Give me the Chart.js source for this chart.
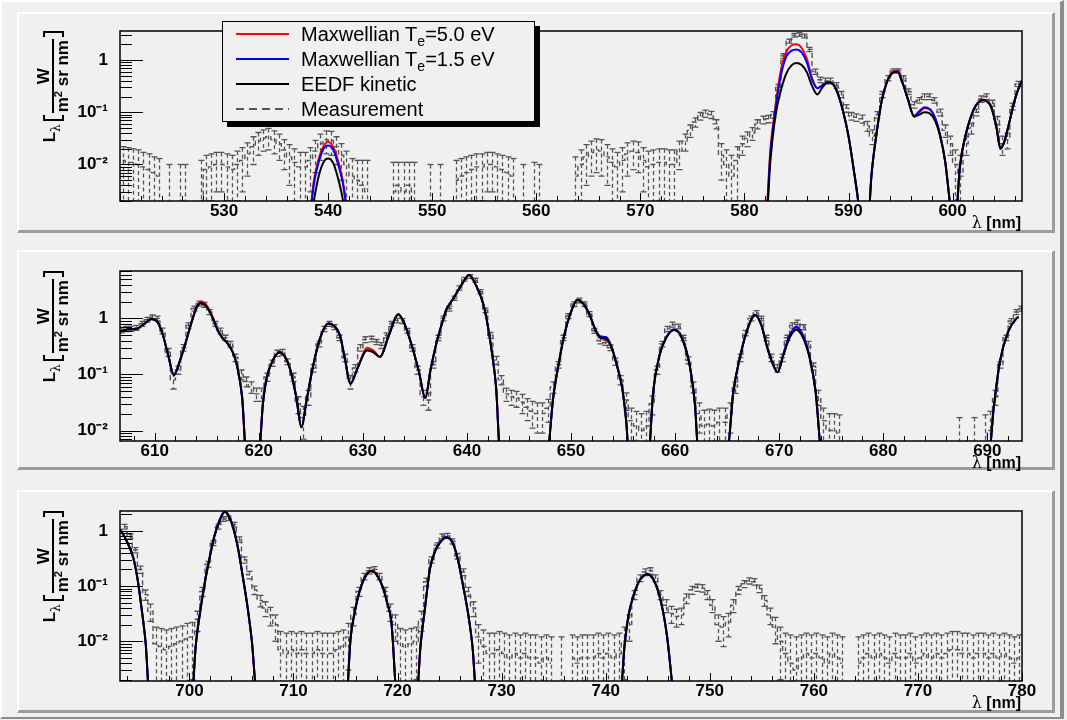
<!DOCTYPE html>
<html><head><meta charset="utf-8">
<script src="https://cdn.jsdelivr.net/npm/chart.js@4.4.1/dist/chart.umd.min.js"></script>
<style>
html,body{margin:0;padding:0;background:#f0f0f0;}
#root{position:relative;width:1067px;height:720px;overflow:hidden;background:#f0f0f0;font-family:"Liberation Sans",Arial,sans-serif;color:#000;}
#frame{position:absolute;left:0;top:0;width:1064px;height:719px;box-sizing:border-box;border-top:2px solid #fff;border-left:2px solid #fff;border-right:4px solid #8c8c8c;border-bottom:2px solid #8c8c8c;}
.panel{position:absolute;left:0;width:1067px;height:240px;}
.pad{position:absolute;left:17px;width:1038px;box-sizing:border-box;background:#f0f0f0;border-top:2px solid #fff;border-left:2px solid #fff;border-right:3px solid #9c9c9c;border-bottom:3px solid #9c9c9c;}
.panel canvas{position:absolute;left:0;top:0;}
.ytitle{position:absolute;left:35px;top:201px;width:170px;height:36px;transform-origin:0 0;transform:rotate(-90deg);display:flex;justify-content:flex-end;align-items:center;font-weight:bold;font-size:17px;white-space:nowrap;}
.ytitle .L{position:relative;top:-3px;margin-right:3px;}
.ytitle .lam{font-family:"DejaVu Serif",serif;font-weight:normal;font-size:12px;position:relative;top:5px;}
.brl{display:inline-block;width:4px;height:17px;border:2px solid #000;border-right:none;margin-right:2px;}
.brr{display:inline-block;width:4px;height:17px;border:2px solid #000;border-left:none;margin-left:2px;}
.frac{display:inline-flex;flex-direction:column;align-items:center;line-height:17px;}
.num{padding:0 2px;}
.den{border-top:2px solid #000;padding:0 1px;}
.den sup{font-size:11px;vertical-align:6px;line-height:0;}
.xtitle{position:absolute;right:46px;top:213px;font-size:16px;font-weight:bold;white-space:nowrap;}
.xtitle .lam{font-family:"DejaVu Serif",serif;font-weight:normal;}
#legend{position:absolute;left:222px;top:21px;width:313px;height:101px;box-sizing:border-box;border:1px solid #000;background:#f0f0f0;box-shadow:5px 5px 0 #000;z-index:5;}
.lrow{position:absolute;left:0;width:100%;height:25px;}
.sw{position:absolute;left:13px;width:53px;top:11px;height:2px;}
.lt{position:absolute;left:78px;top:0;font-size:20px;line-height:25px;white-space:nowrap;}
.lt sub{font-size:14px;vertical-align:-5px;line-height:0;}
</style>
</head>
<body>
<div id="root">
  <div id="frame"></div>
  <div class="panel" style="top:0px">
    <div class="pad" style="top:12px;height:221px"></div>
    <canvas id="c1" width="1067" height="240"></canvas>
    <div class="ytitle"><span class="L">L<span class="lam">λ</span></span><span class="brl"></span><span class="frac"><span class="num">W</span><span class="den">m<sup>2</sup> sr nm</span></span><span class="brr"></span></div>
    <div class="xtitle"><span class="lam">λ</span> [nm]</div>
    <div id="legend">
      <div class="lrow" style="top:0px"><span class="sw" style="background:#ff0000"></span><span class="lt">Maxwellian T<sub>e</sub>=5.0 eV</span></div>
      <div class="lrow" style="top:25px"><span class="sw" style="background:#0000ff"></span><span class="lt">Maxwellian T<sub>e</sub>=1.5 eV</span></div>
      <div class="lrow" style="top:50px"><span class="sw" style="background:#000"></span><span class="lt">EEDF kinetic</span></div>
      <div class="lrow" style="top:75px"><span class="sw" style="background:repeating-linear-gradient(90deg,#555 0 8px,transparent 8px 13px)"></span><span class="lt">Measurement</span></div>
    </div>
  </div>
  <div class="panel" style="top:240px">
    <div class="pad" style="top:10px;height:220px"></div>
    <canvas id="c2" width="1067" height="240"></canvas>
    <div class="ytitle"><span class="L">L<span class="lam">λ</span></span><span class="brl"></span><span class="frac"><span class="num">W</span><span class="den">m<sup>2</sup> sr nm</span></span><span class="brr"></span></div>
    <div class="xtitle"><span class="lam">λ</span> [nm]</div>
  </div>
  <div class="panel" style="top:480px">
    <div class="pad" style="top:10px;height:223px"></div>
    <canvas id="c3" width="1067" height="240"></canvas>
    <div class="ytitle"><span class="L">L<span class="lam">λ</span></span><span class="brl"></span><span class="frac"><span class="num">W</span><span class="den">m<sup>2</sup> sr nm</span></span><span class="brr"></span></div>
    <div class="xtitle"><span class="lam">λ</span> [nm]</div>
  </div>
</div>
<script>
// ---------- tick labels ----------
const yDecades = [1, 0.1, 0.01];
const yDecadeLabels = ['1', '10⁻¹', '10⁻²'];

// ---------- panel ranges ----------
const p1Range = [520, 606.67, 0.002, 3.6];
const p2Range = [606.67, 693.33, 0.0065, 7];
const p3Range = [693.33, 780, 0.0019, 2.3];

// measurement bins: first bin centre, 0.5 nm bins
const p1Start = 520.25, p2Start = 606.75, p3Start = 693.75, binStep = 0.5;

// ---------- panel 1 measurement (value, error) ----------
const p1Meas = [
 0.012,0.011,0.011,0.01,0.009,0.008,0.007,0.006,0,0.001,
 0,0.001,0.001,0,0,0.002,0.008,0.009,0.01,0.01,
 0.009,0.008,0.01,0.012,0.016,0.022,0.028,0.032,0.034,0.03,
 0.025,0.019,0.014,0.011,0.009,0.009,0.012,0.018,0.025,0.03,
 0.029,0.022,0.015,0.01,0.006,0.005,0.004,0.003,0,0,
 0,0,0.003,0.004,0.003,0.004,0.002,0,0,0.001,
 0,0.001,0,0,0.005,0.006,0.007,0.008,0.009,0.009,
 0.01,0.01,0.009,0.008,0.007,0.006,0,0.001,0,0.002,
 0.001,0,0,0,0,0,0,0.006,0.01,0.014,
 0.017,0.019,0.018,0.014,0.011,0.009,0.012,0.016,0.018,0.017,
 0.012,0.009,0.01,0.011,0.011,0.01,0.01,0.018,0.028,0.045,
 0.065,0.085,0.095,0.09,0.06,0.015,0.01,0.006,0.012,0.025,
 0.032,0.04,0.06,0.072,0.075,0.09,0.3,1.2,2.3,3.0,
 3.1,2.9,1.6,0.6,0.42,0.4,0.4,0.33,0.22,0.12,
 0.085,0.08,0.075,0.055,0.035,0.09,0.22,0.45,0.62,0.62,
 0.45,0.25,0.14,0.17,0.2,0.2,0.17,0.1,0.045,0.025,
 0.01,0.006,0.025,0.05,0.1,0.18,0.2,0.15,0.07,0.025,
 0.03,0.13,0.35];
const p1Err = [
 .01,.01,.009,.009,.008,.008,.007,.007,0,.009,
 0,.009,.009,0,0,.01,.007,.007,.007,.007,
 .007,.007,.008,.009,.01,.012,.013,.014,.015,.014,
 .013,.011,.01,.009,.008,.008,.009,.011,.013,.014,
 .014,.012,.01,.008,.007,.007,.008,.009,0,0,
 0,0,.008,.007,.008,.007,.009,0,0,.009,
 0,.009,0,0,.007,.007,.007,.007,.007,.007,
 .007,.007,.007,.007,.007,.007,0,.009,0,.009,
 .009,0,0,0,0,0,0,.008,.009,.01,
 .011,.012,.012,.01,.009,.008,.009,.01,.01,.01,
 .009,.009,.009,.009,.009,.009,.009,.01,.01,.012,
 .013,.014,.015,.014,.012,.01,.009,.009,.01,.01,
 .01,.011,.012,.012,.012,.013,.04,.12,.2,.25,
 .25,.25,.15,.07,.05,.05,.05,.04,.03,.02,
 .014,.013,.013,.012,.011,.013,.03,.05,.06,.06,
 .05,.03,.02,.02,.025,.025,.02,.015,.012,.01,
 .009,.009,.01,.012,.015,.025,.025,.02,.013,.01,
 .01,.02,.04];

// ---------- panel 1 models ----------
const p1ModelX = [
 538.2,538.6,539.0,539.5,540.0,540.5,541.0,541.4,541.8,542.2,
 582.0,582.5,583.0,583.5,584.0,584.5,585.0,585.5,586.0,586.5,587.0,587.5,588.0,588.5,589.0,589.5,590.0,590.5,591.0,591.3,
 591.8,592.2,592.7,593.2,593.7,594.2,594.7,595.2,595.7,596.3,596.8,597.3,597.8,598.3,598.8,599.3,599.8,
 600.2,600.7,601.3,602.0,602.5,602.9,603.3,603.7,604.2,604.6,604.9,605.2,605.5,605.8,606.2,606.67];
const p1Eedf = [
 .0004,.0018,.005,.0105,.013,.0105,.005,.0022,.0006,.0002,
 .0005,.012,.09,.26,.54,.78,.88,.8,.58,.32,.22,.3,.37,.35,.22,.1,.035,.008,.0015,.0003,
 .0004,.006,.04,.17,.38,.56,.6,.36,.18,.082,.09,.1,.095,.07,.035,.011,.0015,
 .0005,.009,.04,.11,.155,.17,.16,.127,.053,.02,.025,.04,.07,.127,.24,.41];
const p1Max50 = [
 .0008,.0045,.011,.0215,.027,.0215,.011,.005,.0015,.0005,
 .0007,.02,.14,.65,1.4,1.9,2.0,1.7,1.05,.45,.29,.33,.38,.35,.22,.1,.035,.008,.0015,.0003,
 .0004,.006,.04,.17,.39,.58,.63,.37,.18,.085,.1,.12,.115,.08,.037,.011,.0015,
 .0005,.009,.04,.11,.16,.175,.165,.13,.054,.02,.025,.04,.07,.127,.24,.41];
const p1Max15 = [
 .0007,.0038,.0095,.019,.023,.019,.0095,.0045,.0013,.0004,
 .0006,.017,.12,.5,1.15,1.5,1.6,1.4,.9,.42,.29,.33,.38,.35,.22,.1,.035,.008,.0015,.0003,
 .0004,.006,.04,.17,.38,.57,.61,.36,.18,.085,.105,.125,.115,.08,.037,.011,.0015,
 .0005,.009,.04,.11,.16,.172,.163,.13,.054,.02,.025,.04,.07,.127,.24,.41];

// ---------- panel 2 measurement ----------
const p2Meas = [
 .62,.65,.66,.68,.8,.95,1.05,1.0,.6,.25,
 .08,.12,.3,.75,1.5,1.85,1.75,1.3,.8,.6,
 .45,.35,.2,.1,.075,.06,.045,.045,.09,.16,
 .24,.25,.17,.09,.03,.017,.04,.13,.35,.65,
 .8,.7,.45,.2,.075,.13,.3,.42,.43,.38,
 .33,.5,.8,.92,.9,.6,.3,.12,.04,.035,
 .15,.45,1.0,1.5,2.3,3.5,5.0,5.6,4.8,3.0,
 1.4,.5,.18,.08,.045,.04,.038,.032,.026,.022,
 .02,.02,.025,.06,.15,.45,1.1,1.8,2.1,1.8,
 1.2,.6,.4,.37,.3,.17,.08,.035,.015,.012,
 .01,.012,.03,.12,.35,.65,.78,.72,.45,.18,
 .06,.02,.012,.013,.012,.014,.014,.02,.06,.2,
 .55,1.0,1.25,1.0,.45,.2,.13,.2,.45,.75,
 .85,.7,.35,.14,.04,.015,.01,.01,.009,0,
 0,0,0,0,0,0,0,0,0,0,
 0,0,0,0,0,0,0,0,0,0,
 0,.002,0,0,.002,0,.006,.01,.04,.15,
 .45,.9,1.3,1.5];
const p2Err = [
 .07,.07,.07,.07,.08,.09,.1,.1,.07,.04,
 .025,.02,.04,.08,.15,.18,.17,.13,.08,.07,
 .05,.04,.03,.02,.015,.014,.012,.012,.015,.02,
 .03,.03,.02,.015,.01,.01,.012,.02,.04,.07,
 .08,.07,.05,.03,.02,.02,.04,.05,.05,.04,
 .04,.05,.08,.09,.09,.06,.04,.02,.012,.012,
 .02,.05,.1,.15,.2,.3,.4,.45,.4,.25,
 .13,.06,.03,.015,.012,.012,.012,.012,.011,.011,
 .011,.011,.011,.014,.02,.05,.11,.17,.2,.17,
 .12,.06,.05,.04,.035,.025,.015,.012,.01,.01,
 .01,.01,.011,.02,.04,.07,.08,.07,.05,.025,
 .013,.011,.011,.011,.011,.011,.011,.011,.014,.03,
 .06,.1,.12,.1,.05,.03,.02,.03,.05,.08,
 .08,.07,.04,.02,.012,.01,.01,.01,.01,0,
 0,0,0,0,0,0,0,0,0,0,
 0,0,0,0,0,0,0,0,0,0,
 0,.015,0,0,.015,0,.013,.012,.012,.02,
 .05,.09,.13,.15];

// ---------- panel 2 models ----------
const p2ModelX = [
 606.67,607.5,608.3,609.0,609.7,610.3,610.8,611.3,611.85,612.4,612.9,613.5,614.0,614.4,615.0,615.6,616.0,616.5,617.0,617.5,617.9,618.4,618.9,
 619.9,620.4,620.75,621.3,622.0,622.5,623.0,623.6,624.1,624.6,625.2,625.9,626.7,627.3,627.8,628.3,628.8,629.5,630.4,631.0,
 631.65,632.5,633.4,634.0,634.7,635.4,636.0,636.5,637.1,637.6,638.0,638.5,639.0,639.6,640.2,640.9,641.6,642.0,642.4,642.8,643.2,
 647.7,648.3,648.9,649.4,649.9,650.6,651.2,651.8,652.3,652.8,653.4,653.9,654.4,654.9,655.3,655.6,
 657.4,657.9,658.5,659.2,659.9,660.6,661.4,661.9,662.3,
 665.0,665.6,666.2,666.9,667.7,668.3,668.8,669.3,669.85,670.4,671.0,671.65,672.3,672.95,673.5,674.1,
 690.1,690.6,691.2,692.0,692.8,693.0];
const p2Eedf = [
 .58,.64,.65,.8,.97,.85,.5,.22,.097,.17,.33,.8,1.5,1.86,1.6,1.0,.65,.45,.36,.25,.146,.04,.002,
 .002,.03,.084,.17,.25,.21,.127,.04,.0114,.035,.136,.45,.81,.72,.5,.18,.068,.13,.27,.25,
 .205,.5,1.18,.8,.33,.11,.038,.12,.38,.8,1.4,2.0,2.8,4.3,5.96,3.8,1.73,.75,.25,.06,.004,
 .004,.04,.19,.55,1.15,2.13,1.8,1.15,.65,.46,.43,.3,.146,.06,.015,.003,
 .003,.05,.22,.47,.62,.47,.146,.03,.003,
 .004,.05,.19,.6,1.15,.75,.33,.17,.11,.22,.45,.63,.45,.19,.05,.004,
 .003,.024,.167,.58,1.0,1.05];
const p2Max50 = [
 .58,.64,.65,.8,.97,.85,.5,.22,.097,.17,.33,.8,1.55,2.0,1.7,1.02,.65,.45,.36,.25,.146,.04,.002,
 .002,.03,.084,.17,.25,.21,.127,.04,.0114,.035,.136,.45,.81,.72,.5,.18,.068,.13,.3,.27,
 .205,.5,1.18,.8,.33,.11,.038,.12,.38,.8,1.4,2.0,2.8,4.3,5.96,3.8,1.73,.75,.25,.06,.004,
 .004,.04,.19,.55,1.15,2.13,1.8,1.15,.65,.45,.41,.3,.146,.06,.015,.003,
 .003,.05,.22,.47,.63,.47,.146,.03,.003,
 .004,.05,.19,.6,1.12,.74,.33,.17,.11,.22,.47,.66,.47,.19,.05,.004,
 .003,.024,.167,.58,1.0,1.05];
const p2Max15 = [
 .58,.64,.65,.8,.97,.85,.5,.22,.097,.17,.33,.8,1.52,1.9,1.63,1.0,.65,.45,.36,.25,.146,.04,.002,
 .002,.03,.084,.17,.25,.21,.127,.04,.0114,.035,.136,.45,.81,.72,.5,.18,.068,.13,.27,.25,
 .205,.5,1.18,.8,.33,.11,.038,.12,.38,.8,1.4,2.0,2.8,4.3,5.96,3.8,1.73,.75,.25,.06,.004,
 .004,.04,.19,.55,1.15,2.15,1.8,1.15,.66,.48,.46,.31,.15,.06,.015,.003,
 .003,.05,.22,.47,.64,.47,.146,.03,.003,
 .004,.05,.19,.6,1.15,.75,.33,.17,.11,.23,.5,.71,.5,.2,.05,.004,
 .003,.024,.167,.58,1.0,1.05];

// ---------- panel 3 measurement ----------
const p3Meas = [
 1.2,.8,.45,.2,.07,.035,.009,.008,.007,.008,
 .009,.01,.011,.012,.025,.08,.25,.6,1.2,1.65,
 1.7,1.3,.7,.3,.16,.085,.055,.04,.03,.02,
 .007,.006,.007,.006,.007,.006,.006,.007,.006,.006,
 .006,.007,.008,.012,.03,.08,.15,.19,.2,.15,
 .08,.035,.02,.009,.008,.009,.01,.025,.12,.3,
 .55,.8,.82,.65,.35,.18,.08,.04,.012,.008,
 .006,.006,.007,.006,.005,.006,.005,.006,.005,.005,
 .004,.005,.004,0,.004,0,.005,.004,.005,.005,
 .005,.006,.005,.006,.005,.006,.01,.02,.07,.14,
 .18,.19,.14,.07,.045,.032,.028,.03,.06,.085,
 .094,.092,.07,.045,.02,.018,.022,.045,.085,.11,
 .125,.12,.09,.055,.03,.018,.01,.006,.004,.003,
 .005,.006,.005,.006,.005,.004,.006,.005,.004,0,
 0,.004,.005,.006,.005,.006,.005,.004,.006,.005,
 .005,.006,.004,.005,.006,.005,.006,.005,.006,.007,
 .007,.006,.006,.005,.006,.006,.005,.006,.005,.006,
 .005,.004,.005];
const p3Err = [
 .12,.08,.05,.03,.015,.012,.009,.009,.009,.009,
 .009,.009,.01,.01,.01,.015,.03,.06,.12,.16,
 .16,.13,.08,.04,.025,.015,.013,.012,.011,.01,
 .008,.008,.008,.008,.008,.008,.008,.008,.008,.008,
 .008,.008,.008,.009,.011,.015,.02,.025,.025,.02,
 .015,.012,.01,.008,.008,.008,.008,.01,.02,.04,
 .06,.08,.08,.07,.04,.025,.015,.012,.008,.008,
 .008,.008,.008,.008,.008,.008,.008,.008,.008,.008,
 .008,.008,.008,0,.008,0,.008,.008,.008,.008,
 .008,.008,.008,.008,.008,.008,.008,.01,.013,.02,
 .025,.025,.02,.013,.012,.011,.01,.01,.012,.014,
 .014,.014,.013,.012,.01,.01,.01,.012,.014,.016,
 .016,.016,.014,.012,.01,.009,.008,.008,.009,.009,
 .008,.008,.008,.008,.008,.008,.008,.008,.008,0,
 0,.008,.008,.008,.008,.008,.008,.008,.008,.008,
 .008,.008,.008,.008,.008,.008,.008,.008,.008,.008,
 .008,.008,.008,.008,.008,.008,.008,.008,.008,.008,
 .008,.008,.008];

// ---------- panel 3 models ----------
const p3ModelX = [
 693.33,693.9,694.6,695.0,695.4,695.8,696.2,
 700.2,700.6,701.0,701.5,701.95,702.4,702.9,703.4,703.8,704.2,704.7,705.1,705.6,706.0,706.5,
 715.0,715.5,715.9,716.5,717.0,717.5,718.0,718.6,719.0,719.4,720.0,
 721.8,722.2,722.6,723.1,723.6,724.1,724.7,725.3,725.8,726.3,726.8,727.2,727.6,
 741.4,741.8,742.2,742.7,743.3,744.0,744.6,745.3,745.9,746.5];
const p3Eedf = [
 1.07,.7,.33,.14,.04,.009,.0008,
 .0008,.008,.031,.12,.33,.8,1.52,2.2,1.8,1.15,.45,.16,.04,.01,.001,
 .0006,.012,.035,.1,.16,.187,.16,.094,.05,.023,.0008,
 .0008,.008,.035,.2,.42,.62,.76,.6,.3,.1,.03,.008,.001,
 .001,.008,.03,.07,.13,.163,.13,.053,.012,.001];
const p3Max50 = [
 1.07,.7,.33,.14,.04,.009,.0008,
 .0008,.008,.031,.12,.33,.8,1.55,2.25,1.85,1.15,.45,.16,.04,.01,.001,
 .0006,.012,.035,.1,.16,.187,.16,.094,.05,.023,.0008,
 .0008,.008,.035,.2,.42,.62,.76,.6,.3,.1,.03,.008,.001,
 .001,.008,.03,.07,.13,.163,.13,.053,.012,.001];
const p3Max15 = [
 1.07,.7,.33,.14,.04,.009,.0008,
 .0008,.008,.032,.125,.34,.82,1.58,2.3,1.88,1.18,.46,.16,.04,.01,.001,
 .0006,.012,.035,.1,.16,.19,.16,.094,.05,.023,.0008,
 .0008,.008,.035,.2,.43,.64,.78,.61,.3,.1,.03,.008,.001,
 .001,.008,.03,.07,.13,.168,.13,.053,.012,.001];

// ---------- drawing ----------
const FONT = '"Liberation Sans", Arial, Helvetica, sans-serif';
Chart.defaults.font.family = FONT;

function makeErrorBars(wl, v, e) {
  return {
    id: 'errorBars',
    beforeDatasetsDraw(chart) {
      const {ctx, chartArea: a, scales: {x, y}} = chart;
      ctx.save();
      ctx.beginPath(); ctx.rect(a.left, a.top, a.right - a.left, a.bottom - a.top); ctx.clip();
      ctx.strokeStyle = '#555'; ctx.lineWidth = 1.3;
      for (let i = 0; i < wl.length; i++) {
        if (!(e[i] > 0)) continue;
        const px = Math.round(x.getPixelForValue(wl[i])) + 0.5;
        const top = y.getPixelForValue(v[i] + e[i]);
        const lowV = v[i] - e[i];
        const bot = lowV > 0 ? y.getPixelForValue(lowV) : a.bottom + 10;
        ctx.setLineDash([4, 3]);
        ctx.beginPath(); ctx.moveTo(px, top); ctx.lineTo(px, bot); ctx.stroke();
        ctx.setLineDash([]);
        ctx.beginPath();
        ctx.moveTo(px - 3, top); ctx.lineTo(px + 3, top);
        if (lowV > 0) { ctx.moveTo(px - 3, bot); ctx.lineTo(px + 3, bot); }
        ctx.stroke();
      }
      ctx.restore();
    }
  };
}

const frameTicks = {
  id: 'frameTicks',
  afterDraw(chart) {
    const {ctx, chartArea: a, scales: {x, y}} = chart;
    ctx.save();
    ctx.strokeStyle = '#000'; ctx.lineWidth = 1;
    ctx.beginPath();
    const lo = Math.floor(Math.log10(y.min)), hi = Math.ceil(Math.log10(y.max));
    for (let p = lo; p <= hi; p++) {
      for (let m = 1; m <= 9; m++) {
        const val = m * Math.pow(10, p);
        if (val < y.min || val > y.max) continue;
        const py = Math.round(y.getPixelForValue(val)) + 0.5;
        const len = m === 1 ? 23 : 12;
        ctx.moveTo(a.left, py); ctx.lineTo(a.left + len, py);
      }
    }
    for (let val = Math.ceil(x.min / 2) * 2; val <= x.max; val += 2) {
      const px = Math.round(x.getPixelForValue(val)) + 0.5;
      const len = val % 10 === 0 ? 8 : 5;
      ctx.moveTo(px, a.bottom); ctx.lineTo(px, a.bottom - len);
    }
    ctx.stroke();
    ctx.lineWidth = 1.5;
    ctx.strokeRect(a.left, a.top, a.right - a.left, a.bottom - a.top);
    ctx.restore();
  }
};

function buildPanel(id, range, start, meas, err, mx, eedf, m15, m50) {
  const [xmin, xmax, ymin, ymax] = range;
  const wl = meas.map((_, i) => start + binStep * i);
  const measPts = wl.map((x, i) => ({x, y: meas[i] > 0 ? meas[i] : null}));
  const pts = arr => mx.map((x, i) => ({x, y: arr[i]}));
  const lineDs = (label, arr, color) => ({
    label, data: pts(arr), borderColor: color, borderWidth: 2, pointRadius: 0,
    cubicInterpolationMode: 'monotone', fill: false
  });
  new Chart(document.getElementById(id), {
    type: 'line',
    data: {
      datasets: [
        lineDs('EEDF kinetic', eedf, '#000000'),
        lineDs('Maxwellian Te=1.5 eV', m15, '#0000ff'),
        lineDs('Maxwellian Te=5.0 eV', m50, '#ff0000'),
        {label: 'Measurement', data: measPts, borderColor: '#555555', borderWidth: 1.4,
         borderDash: [5, 3], stepped: 'middle', pointRadius: 0, spanGaps: false, fill: false}
      ]
    },
    options: {
      responsive: false, animation: false, devicePixelRatio: 1,
      layout: {padding: {top: 31, right: 45, left: 0, bottom: 0}},
      plugins: {legend: {display: false}, tooltip: {enabled: false}},
      scales: {
        x: {
          type: 'linear', min: xmin, max: xmax,
          grid: {display: false, drawTicks: false}, border: {display: false},
          ticks: {stepSize: 10, includeBounds: false, autoSkip: false, maxRotation: 0, padding: 0,
                  color: '#000', font: {family: FONT, size: 17, weight: 'bold'},
                  callback: v => (Math.abs(v - xmin) < 0.01 ? '' : String(Math.round(v)))},
          afterFit: s => { s.height = 39; }
        },
        y: {
          type: 'logarithmic', min: ymin, max: ymax,
          grid: {display: false, drawTicks: false}, border: {display: false},
          ticks: {autoSkip: false, padding: 12, color: '#000', font: {family: FONT, size: 17, weight: 'bold'},
                  callback: v => { const k = yDecades.findIndex(d => Math.abs(v / d - 1) < 1e-6); return k >= 0 ? yDecadeLabels[k] : ''; }},
          afterFit: s => { s.width = 120; }
        }
      }
    },
    plugins: [makeErrorBars(wl, meas, err), frameTicks]
  });
}

buildPanel('c1', p1Range, p1Start, p1Meas, p1Err, p1ModelX, p1Eedf, p1Max15, p1Max50);
buildPanel('c2', p2Range, p2Start, p2Meas, p2Err, p2ModelX, p2Eedf, p2Max15, p2Max50);
buildPanel('c3', p3Range, p3Start, p3Meas, p3Err, p3ModelX, p3Eedf, p3Max15, p3Max50);
</script>
</body></html>
